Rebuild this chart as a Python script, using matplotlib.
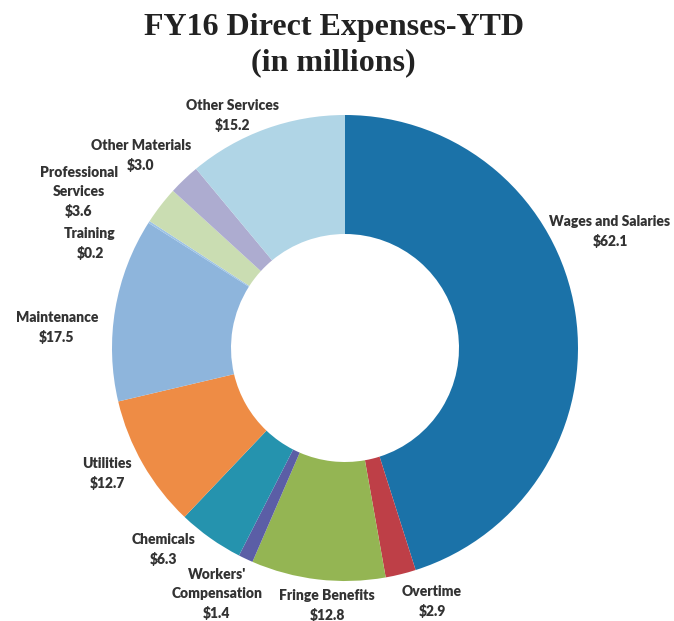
import matplotlib
matplotlib.use("Agg")
import matplotlib.pyplot as plt

# FY16 direct expenses, year to date (millions of dollars), clockwise from 12 o'clock
categories = [
    "Wages and Salaries", "Overtime", "Fringe Benefits", "Workers'\nCompensation",
    "Chemicals", "Utilities", "Maintenance", "Training",
    "Professional\nServices", "Other Materials", "Other Services",
]
values = [62.1, 2.9, 12.8, 1.4, 6.3, 12.7, 17.5, 0.2, 3.6, 3.0, 15.2]
colors = [
    "#1B72A8", "#BE3F47", "#94B553", "#5B5EA6",
    "#2593AE", "#EE8C45", "#8EB5DC", "#9DC3E6",
    "#CADDB2", "#ADACD0", "#B0D5E6",
]

# label block centres in figure pixels (x from left, y from top)
label_pos = [
    (610, 232), (432, 602), (327, 605), (217, 594),
    (164, 550), (107, 474), (57, 327), (90, 243),
    (79, 192), (141, 155), (233, 115),
]

W, H = 674, 621
fig = plt.figure(figsize=(W / 100, H / 100), dpi=100)
ax = fig.add_axes([0, 0, 1, 1])

cx, cy, r_out, r_in = 345, H - 348, 233, 114
ax.pie(values, colors=colors, startangle=90, counterclock=False,
       center=(cx, cy), radius=r_out,
       wedgeprops=dict(width=r_out - r_in, linewidth=0))

ax.set_xlim(0, W)
ax.set_ylim(0, H)
ax.set_aspect("auto")
ax.axis("off")

label_font = dict(family=["Lato", "DejaVu Sans"], fontweight="heavy",
                  fontsize=10, color="#333333")
for name, val, (px, py) in zip(categories, values, label_pos):
    ax.text(px, H - py, f"{name}\n${val:.1f}", ha="center", va="center",
            multialignment="center", linespacing=1.5, **label_font)

title_font = dict(family=["Liberation Serif", "DejaVu Serif"], fontweight="bold",
                  fontsize=23, color="#222222")
ax.text(334, H - 27, "FY16 Direct Expenses-YTD", ha="center", va="center", **title_font)
ax.text(333, H - 63, "(in millions)", ha="center", va="center", **title_font)

fig.savefig("out.png", dpi=100, facecolor="white")
